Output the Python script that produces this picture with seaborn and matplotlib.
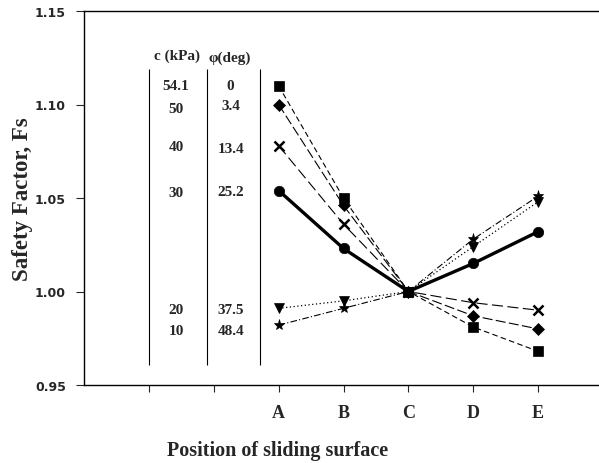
import matplotlib
matplotlib.use("Agg")
import matplotlib.pyplot as plt
import seaborn as sns
import pandas as pd

positions = ["A", "B", "C", "D", "E"]
x_pos = [3, 4, 5, 6, 7]
tick_pos = [1, 2, 3, 4, 5, 6, 7]
tick_labels = ["", "", "A", "B", "C", "D", "E"]

fs_c54 = [1.110, 1.050, 1.000, 0.981, 0.968]
fs_c50 = [1.100, 1.046, 1.000, 0.987, 0.980]
fs_c40 = [1.078, 1.036, 1.000, 0.994, 0.990]
fs_c30 = [1.054, 1.023, 1.000, 1.015, 1.032]
fs_c20 = [0.991, 0.995, 1.000, 1.024, 1.048]
fs_c10 = [0.982, 0.991, 1.000, 1.028, 1.051]

c_kpa = ["54.1", "50", "40", "30", "20", "10"]
phi_deg = ["0", "3.4", "13.4", "25.2", "37.5", "48.4"]
c_rows = [1.110, 1.0976, 1.0773, 1.0532, 0.9906, 0.9789]
phi_rows = [1.110, 1.0992, 1.0767, 1.0537, 0.9906, 0.9789]

sns.set_style("ticks")
fig = plt.figure(figsize=(5.99, 4.64), dpi=100)
ax = fig.add_axes([84/599, 78/464, 519/599, 374/464])

series = [
    (fs_c54, "s", (5, 3), 0.8, 6.5),
    (fs_c50, "D", (9, 3), 0.8, 6),
    (fs_c40, "x", (10, 4), 0.8, 7),
    (fs_c20, "v", (1, 2), 0.9, 7),
    (fs_c10, "*", (6, 2, 1, 2), 0.8, 8),
    (fs_c30, "o", None, 2.4, 7.5),
]
for vals, mk, dash, lw, ms in series:
    df = pd.DataFrame({"x": x_pos, "y": vals})
    kw = {}
    if dash is not None:
        kw["dashes"] = dash
    sns.lineplot(data=df, x="x", y="y", ax=ax, color="black", marker=mk,
                 markersize=ms, linewidth=lw, markeredgecolor="black",
                 markeredgewidth=1.8 if mk == "x" else 0.5, **kw)

ax.set_xlim(0, 8)
ax.set_ylim(0.95, 1.15)
ax.set_yticks([0.95, 1.00, 1.05, 1.10, 1.15])
ax.set_yticklabels(["0.95", "1.00", "1.05", "1.10", "1.15"],
                   fontfamily="DejaVu Sans", fontweight="bold", fontsize=9)
ax.set_xticks(tick_pos)
ax.set_xticklabels(tick_labels, fontfamily="Liberation Serif",
                   fontweight="bold", fontsize=13)
ax.tick_params(axis="x", length=5, pad=9, width=0.8)
ax.tick_params(axis="y", length=6, pad=7, width=0.8)
ax.spines["right"].set_visible(False)
for s in ["left", "bottom", "top"]:
    ax.spines[s].set_linewidth(1.0)
    ax.spines[s].set_color("black")

ax.set_xlabel("Position of sliding surface", fontfamily="Liberation Serif",
              fontweight="bold", fontsize=14.5)
ax.xaxis.set_label_coords((278 - 84) / 519, -0.148)
ax.set_ylabel("Safety Factor, Fs", fontfamily="Liberation Serif",
              fontweight="bold", fontsize=16.5)
ax.yaxis.set_label_coords(-0.098, 0.5)

# table
ax.vlines([1.0, 1.89, 2.71], 0.9607, 1.119, color="black", linewidth=0.8)
tkw = dict(fontfamily="Liberation Serif", fontweight="bold", fontsize=11,
           ha="center", va="center")
ax.text(1.43, 1.1265, "c (kPa)", **tkw)
ax.text(2.25, 1.1254, "φ(deg)", **tkw)
for c, y in zip(c_kpa, c_rows):
    ax.text(1.42, y, c, **tkw)
for p, y in zip(phi_deg, phi_rows):
    ax.text(2.26, y, p, **tkw)

fig.savefig("out.png", dpi=100)
